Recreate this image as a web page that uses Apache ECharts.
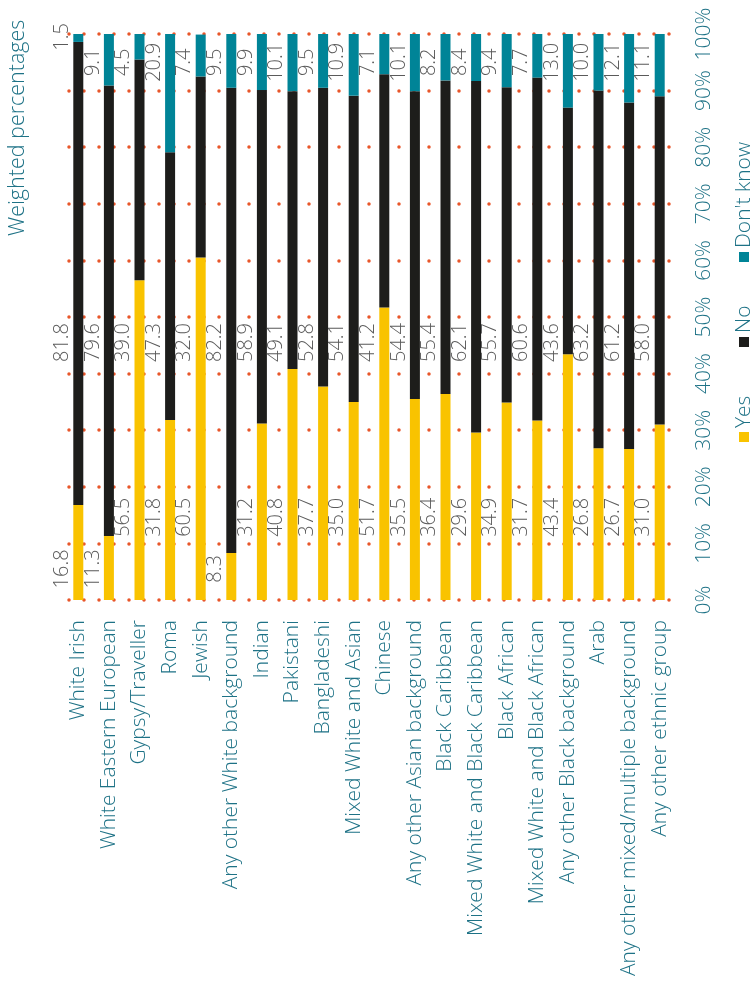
<!DOCTYPE html>
<html><head><meta charset="utf-8">
<script src="https://cdn.jsdelivr.net/npm/echarts@6/dist/echarts.min.js"></script>
<style>html,body{margin:0;padding:0;background:#fff}#c{width:755px;height:990px}</style>
</head><body><div id="c"></div>
<script>
const categories = ['White Irish','White Eastern European','Gypsy/Traveller','Roma','Jewish','Any other White background','Indian','Pakistani','Bangladeshi','Mixed White and Asian','Chinese','Any other Asian background','Black Caribbean','Mixed White and Black Caribbean','Black African','Mixed White and Black African','Any other Black background','Arab','Any other mixed/multiple background','Any other ethnic group'];
const yesValues = [16.8,11.3,56.5,31.8,60.5,8.3,31.2,40.8,37.7,35.0,51.7,35.5,36.4,29.6,34.9,31.7,43.4,26.8,26.7,31.0];
const noValues  = [81.8,79.6,39.0,47.3,32.0,82.2,58.9,49.1,52.8,54.1,41.2,54.4,55.4,62.1,55.7,60.6,43.6,63.2,61.2,58.0];
const dkValues  = [1.5,9.1,4.5,20.9,7.4,9.5,9.9,10.1,9.5,10.9,7.1,10.1,8.2,8.4,9.4,7.7,13.0,10.0,12.1,11.1];
const seriesNames = ['Yes','No',"Don't know"];
const valueTicks = ['0%','10%','20%','30%','40%','50%','60%','70%','80%','90%','100%'];
const titleText = 'Weighted percentages';

const COLORS = ['#F9C300','#1D1D1B','#008497'];
const TEXT_TEAL = '#1E7286';
const FONT = '"Open Sans", sans-serif';

const chart = echarts.init(document.getElementById('c'), null, {renderer:'canvas'});

// label anchor levels (axis units) following the original label placement
const labelLevel = {'Yes':14.6,'No':45.5,"Don't know":95};
function makeLayout(name, values){
  return function(params){
    const v = values[params.dataIndex];
    let lvl = labelLevel[name];
    if (name === 'Yes' && v < 20) lvl = 5.5;
    if (name === "Don't know" && v < 3) lvl = 99.5;
    const y = chart.convertToPixel({yAxisIndex:0}, lvl);
    return {x: params.rect.x - 1, y: y, align:'center', verticalAlign:'bottom', rotate:90};
  };
}

function mkSeries(name, values, idx){
  return {
    name: name, type:'bar', stack:'total', barWidth:10,
    data: values,
    itemStyle:{color: COLORS[idx]},
    label:{show:true, rotate:90, color:'#5a5a5a', fontFamily:FONT, fontWeight:300, fontSize:20,
      formatter: p => Number(p.value).toFixed(1)},
    labelLayout: makeLayout(name, values),
    silent:true
  };
}

const legendChildren = [];
seriesNames.forEach((n,i)=>{
  const offs = [0,95,180][i];
  legendChildren.push({type:'rect', shape:{x:offs, y:-5, width:10, height:10}, style:{fill:COLORS[i]}});
  legendChildren.push({type:'text', x:offs+14, y:0, style:{text:n, fill:TEXT_TEAL, font:'300 21px "Open Sans", sans-serif', textAlign:'left', textVerticalAlign:'middle'}});
});

chart.setOption({
  animation:false,
  backgroundColor:'#fff',
  grid:{left:63, right:80, top:34, bottom:390, containLabel:false},
  xAxis:{type:'category', data:categories,
    axisLine:{show:false}, axisTick:{show:false},
    axisLabel:{rotate:90, interval:0, margin:20, color:TEXT_TEAL, fontFamily:FONT, fontWeight:300, fontSize:21}},
  yAxis:{type:'value', position:'right', min:0, max:100, interval:10,
    axisLine:{show:false}, axisTick:{show:false},
    axisLabel:{rotate:90, margin:19, color:TEXT_TEAL, fontFamily:FONT, fontWeight:300, fontSize:21,
      formatter: v => valueTicks[Math.round(v/10)]},
    splitLine:{show:true, lineStyle:{color:'#E8562A', width:3.5, type:[0,15], dashOffset:9, cap:'round'}}},
  series:[mkSeries(seriesNames[0], yesValues, 0), mkSeries(seriesNames[1], noValues, 1), mkSeries(seriesNames[2], dkValues, 2)],
  graphic:[
    {type:'text', x:18, y:236, rotation:Math.PI/2, style:{text:titleText, fill:TEXT_TEAL, font:'300 21.5px "Open Sans", sans-serif', textAlign:'left', textVerticalAlign:'middle'}},
    {type:'group', x:744, y:442, rotation:Math.PI/2, children:legendChildren}
  ]
});
</script></body></html>
